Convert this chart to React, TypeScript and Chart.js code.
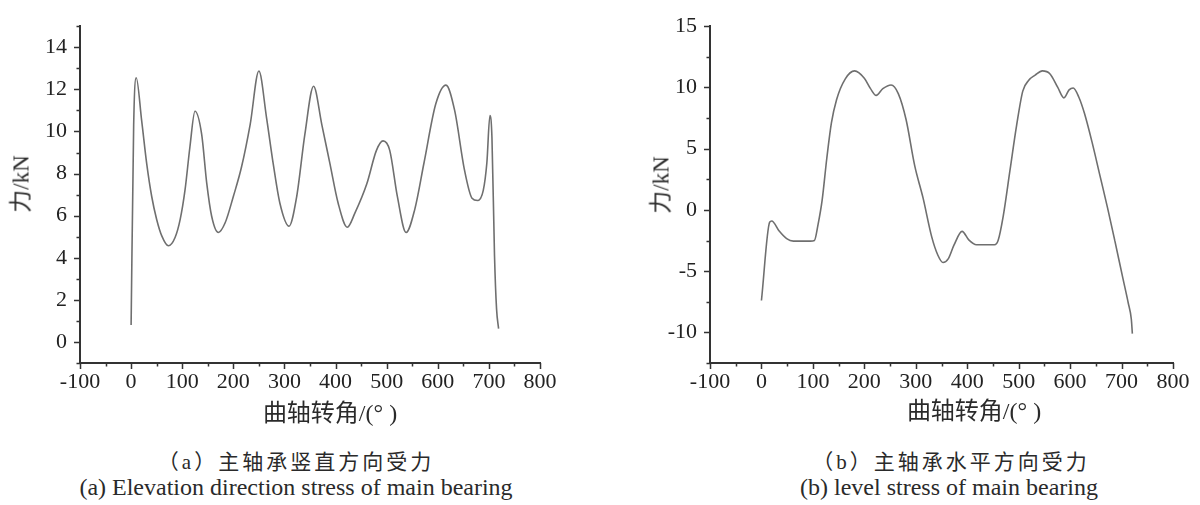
import React, { useEffect, useRef } from "react";
import { Chart, registerables } from "chart.js";

Chart.register(...registerables);

// (a) vertical force on main bearing: crank angle (deg) -> force (kN)
const verticalAngles = [0, 5, 10, 20.7, 30.5, 40.3, 50, 60, 73, 86, 96, 105.5, 115, 125, 138, 148, 157.6, 170.7, 184, 200, 216, 233, 250, 265, 278, 291, 309, 324, 340, 357, 373, 389, 405, 423, 438, 461, 480, 493, 506, 521, 538, 555, 573, 596, 616, 633, 652, 667, 678, 689, 696, 702, 706, 711, 715, 719];
const verticalForce = [0.8, 10.3, 12.55, 10.5, 8.47, 6.91, 5.82, 5.04, 4.57, 4.96, 5.82, 7.22, 9.25, 10.96, 9.87, 7.53, 5.97, 5.2, 5.66, 6.91, 8.31, 10.34, 12.87, 10.65, 8.47, 6.6, 5.5, 6.91, 9.87, 12.15, 10.34, 8.47, 6.6, 5.45, 6.13, 7.5, 9.1, 9.55, 9.1, 6.9, 5.2, 6.3, 8.5, 11.3, 12.2, 11.0, 8.2, 6.83, 6.72, 7.2, 8.5, 10.75, 9.7, 4.1, 1.57, 0.63];

// (b) horizontal force on main bearing
const horizontalAngles = [0, 16, 20, 34, 49, 62, 95, 103, 110, 118, 127, 136, 146, 163, 181, 200, 212, 223, 236, 252, 266, 281, 298, 314, 331, 343, 353, 363, 374, 390, 403, 418, 453, 460, 470, 483, 496, 508, 520, 532, 546, 561, 576, 588, 598, 606, 617, 628, 643, 658, 673, 687, 702, 713, 719, 721];
const horizontalForce = [-7.4, -1.0, -0.9, -1.7, -2.35, -2.55, -2.55, -2.5, -1.2, 0.8, 4.2, 7.1, 9.0, 10.7, 11.35, 10.75, 9.9, 9.35, 9.9, 10.2, 9.5, 7.4, 3.6, 1.0, -2.2, -3.7, -4.3, -4.0, -2.9, -1.75, -2.45, -2.85, -2.85, -2.5, -0.5, 3.2, 6.9, 9.7, 10.6, 11.0, 11.35, 11.1, 10.0, 9.15, 9.8, 9.95, 9.2, 7.87, 5.47, 2.8, 0.13, -2.53, -5.47, -7.6, -8.93, -10.1];

const xTickLabels = [-100, 0, 100, 200, 300, 400, 500, 600, 700, 800];
const verticalYLabels = [0, 2, 4, 6, 8, 10, 12, 14];
const horizontalYLabels = [-10, -5, 0, 5, 10, 15];

const xTitle = "曲轴转角/(° )";
const yTitle = "力/kN";
const captionsA = ["（a）主轴承竖直方向受力", "(a) Elevation direction stress of main bearing"];
const captionsB = ["（b）主轴承水平方向受力", "(b) level stress of main bearing"];

const SERIF = '"Liberation Serif", "Noto Sans CJK SC", serif';
const AXIS_COLOR = "#333333";

const tickMarks = {
  id: "tickMarks",
  afterDraw(chart: any) {
    const ctx = chart.ctx;
    const xs = chart.scales.x;
    const ys = chart.scales.y;
    ctx.save();
    ctx.strokeStyle = AXIS_COLOR;
    ctx.lineWidth = 1.5;
    ctx.beginPath();
    for (const t of xs.ticks) {
      const p = Math.round(xs.getPixelForValue(t.value)) + 0.5;
      const len = t.label !== "" ? 6 : 3.5;
      ctx.moveTo(p, xs.top);
      ctx.lineTo(p, xs.top + len);
    }
    for (const t of ys.ticks) {
      const p = Math.round(ys.getPixelForValue(t.value)) + 0.5;
      const len = t.label !== "" ? 6 : 3.5;
      ctx.moveTo(ys.right, p);
      ctx.lineTo(ys.right - len, p);
    }
    ctx.stroke();
    ctx.restore();
  },
};

type Props = {
  angles: number[];
  force: number[];
  yMin: number;
  yMax: number;
  yStep: number;
  yLabels: number[];
  yAxisWidth: number;
  padTop: number;
  padRight: number;
  left: number;
};

function ForceChart(p: Props) {
  const ref = useRef<HTMLCanvasElement>(null);
  useEffect(() => {
    const tickFont = { family: SERIF, size: 22 };
    const chart = new Chart(ref.current as HTMLCanvasElement, {
      type: "line",
      data: {
        datasets: [
          {
            data: p.angles.map((a, i) => ({ x: a, y: p.force[i] })),
            borderColor: "#6f6f6f",
            borderWidth: 1.6,
            pointRadius: 0,
            cubicInterpolationMode: "monotone",
            fill: false,
          },
        ],
      },
      options: {
        responsive: false,
        animation: false,
        layout: { padding: { left: 0, top: p.padTop, right: p.padRight, bottom: 0 } },
        plugins: { legend: { display: false }, tooltip: { enabled: false } },
        scales: {
          x: {
            type: "linear",
            min: -100,
            max: 800,
            grid: { display: false, drawTicks: false },
            border: { display: true, color: AXIS_COLOR, width: 2 },
            ticks: {
              stepSize: 50,
              autoSkip: false,
              maxRotation: 0,
              padding: 6,
              color: "#222",
              font: tickFont,
              callback: (v: any) => (xTickLabels.includes(Number(v)) ? String(v) : ""),
            },
            afterFit: (s: any) => {
              s.height = 440 - 363;
            },
          },
          y: {
            type: "linear",
            min: p.yMin,
            max: p.yMax,
            grid: { display: false, drawTicks: false },
            border: { display: true, color: AXIS_COLOR, width: 2 },
            ticks: {
              stepSize: p.yStep,
              autoSkip: false,
              padding: 13,
              color: "#222",
              font: tickFont,
              callback: (v: any) => (p.yLabels.includes(Number(v)) ? String(v) : ""),
            },
            afterFit: (s: any) => {
              s.width = p.yAxisWidth;
            },
          },
        },
      } as any,
      plugins: [tickMarks],
    });
    return () => chart.destroy();
  }, []);
  return (
    <canvas
      ref={ref}
      width={600}
      height={440}
      style={{ position: "absolute", left: p.left, top: 0, width: 600, height: 440 }}
    />
  );
}

function Label(props: { x: number; y: number; size: number; text: string; rotate?: boolean; spacing?: number }) {
  return (
    <div
      style={{
        position: "absolute",
        left: props.x,
        top: props.y,
        transform: `translate(-50%, -50%)${props.rotate ? " rotate(-90deg)" : ""}`,
        fontFamily: SERIF,
        fontSize: props.size,
        lineHeight: 1,
        color: "#2a2a2a",
        whiteSpace: "nowrap",
        letterSpacing: props.spacing ? props.spacing : 0,
      }}
    >
      {props.text}
    </div>
  );
}

export default function App() {
  return (
    <div style={{ position: "absolute", left: 0, top: 0, width: 1200, height: 505, background: "#fff", overflow: "hidden" }}>
      <ForceChart
        angles={verticalAngles}
        force={verticalForce}
        yMin={-1}
        yMax={15}
        yStep={1}
        yLabels={verticalYLabels}
        yAxisWidth={80}
        padTop={21}
        padRight={60}
        left={0}
      />
      <ForceChart
        angles={horizontalAngles}
        force={horizontalForce}
        yMin={-12.5}
        yMax={15}
        yStep={2.5}
        yLabels={horizontalYLabels}
        yAxisWidth={110}
        padTop={19}
        padRight={27}
        left={600}
      />
      <Label x={21} y={184} size={23} text={yTitle} rotate />
      <Label x={661} y={185} size={23} text={yTitle} rotate />
      <Label x={330} y={413} size={24} text={xTitle} />
      <Label x={974} y={411} size={24} text={xTitle} />
      <Label x={296} y={462} size={21} text={captionsA[0]} spacing={3} />
      <Label x={296} y={487} size={24} text={captionsA[1]} />
      <Label x={951} y={462} size={21} text={captionsB[0]} spacing={3} />
      <Label x={949} y={487} size={24} text={captionsB[1]} />
    </div>
  );
}
